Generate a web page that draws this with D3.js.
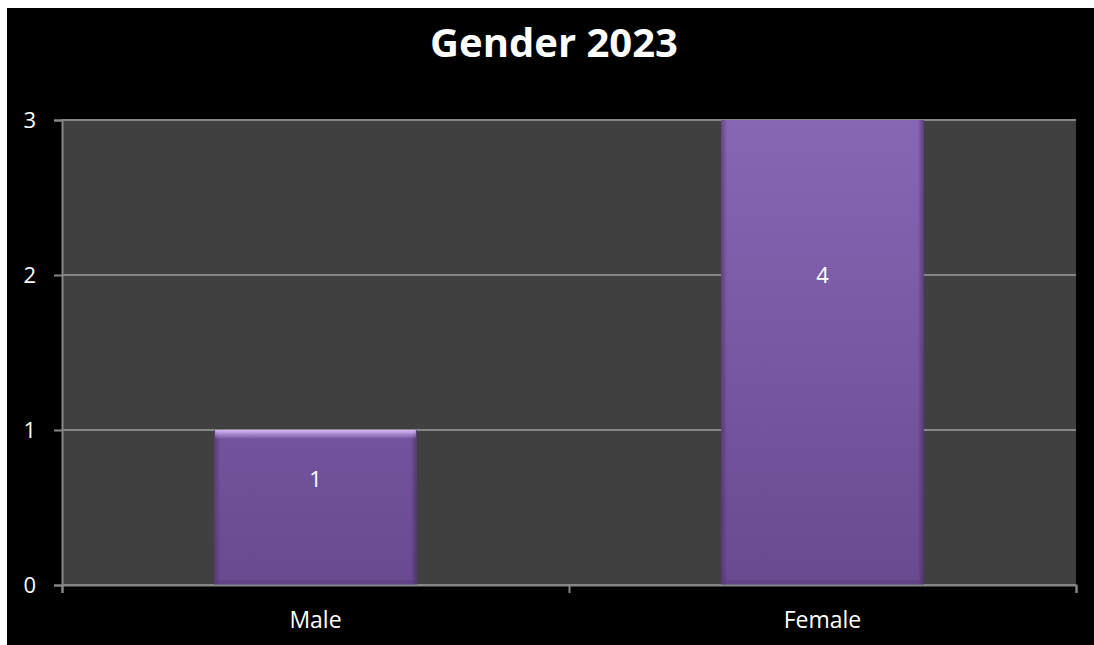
<!DOCTYPE html>
<html>
<head>
<meta charset="utf-8">
<title>Gender 2023</title>
<style>
  html, body { margin: 0; padding: 0; background: #fff; }
  svg { display: block; }
  text { font-family: "Open Sans", sans-serif; }
</style>
</head>
<body>
<div class="chart-container"></div>
<script src="https://cdn.jsdelivr.net/npm/d3@7/dist/d3.min.js"></script>
<script>
// data
var categories = ['Male', 'Female'];
var counts = [1, 4];
var yTicks = [0, 1, 2, 3];
var title = 'Gender 2023';

var W = 1094, H = 645;
var plot = {left: 62, right: 1076, top: 120, bottom: 585};

var svg = d3.select('.chart-container').append('svg')
    .attr('width', W)
    .attr('height', H);

// black chart area
svg.append('rect')
    .attr('x', 7).attr('y', 8)
    .attr('width', W - 7).attr('height', H - 8)
    .attr('fill', '#000');

var x = d3.scaleBand()
    .domain(categories)
    .range([plot.left, plot.right])
    .paddingInner(0.6)
    .paddingOuter(0.3);

var y = d3.scaleLinear()
    .domain([0, 3])
    .range([plot.bottom, plot.top]);

var defs = svg.append('defs');

var fillGrad = defs.append('linearGradient')
    .attr('id', 'barFill')
    .attr('gradientUnits', 'userSpaceOnUse')
    .attr('x1', 0).attr('x2', 0)
    .attr('y1', plot.top).attr('y2', plot.bottom);
fillGrad.append('stop').attr('offset', '0%').attr('stop-color', '#8766b4');
fillGrad.append('stop').attr('offset', '100%').attr('stop-color', '#694a90');

var sideGrad = defs.append('linearGradient')
    .attr('id', 'barSides')
    .attr('x1', 0).attr('x2', 1).attr('y1', 0).attr('y2', 0);
sideGrad.append('stop').attr('offset', '0%').attr('stop-color', '#3a2656').attr('stop-opacity', 0.5);
sideGrad.append('stop').attr('offset', '3%').attr('stop-color', '#3a2656').attr('stop-opacity', 0);
sideGrad.append('stop').attr('offset', '97%').attr('stop-color', '#3a2656').attr('stop-opacity', 0);
sideGrad.append('stop').attr('offset', '100%').attr('stop-color', '#3a2656').attr('stop-opacity', 0.6);

var topGrad = defs.append('linearGradient')
    .attr('id', 'barTop')
    .attr('x1', 0).attr('x2', 0).attr('y1', 0).attr('y2', 1);
topGrad.append('stop').attr('offset', '0%').attr('stop-color', '#dcbcff').attr('stop-opacity', 0.95);
topGrad.append('stop').attr('offset', '100%').attr('stop-color', '#dcbcff').attr('stop-opacity', 0);

defs.append('clipPath').attr('id', 'plotClip')
  .append('rect')
    .attr('x', plot.left).attr('y', plot.top)
    .attr('width', plot.right - plot.left)
    .attr('height', plot.bottom - plot.top);

// plot background
svg.append('rect')
    .attr('x', plot.left).attr('y', plot.top)
    .attr('width', plot.right - plot.left)
    .attr('height', plot.bottom - plot.top)
    .attr('fill', '#404040');

// gridlines
svg.append('g')
    .selectAll('line')
    .data(yTicks)
  .join('line')
    .attr('x1', plot.left).attr('x2', plot.right)
    .attr('y1', d => y(d)).attr('y2', d => y(d))
    .attr('stroke', '#868686')
    .attr('stroke-width', 2);

var barData = categories.map((c, i) => ({cat: c, v: counts[i]}));

// bars
var bars = svg.append('g')
    .attr('clip-path', 'url(#plotClip)')
    .selectAll('g')
    .data(barData)
  .join('g');

bars.append('rect')
    .attr('x', d => x(d.cat))
    .attr('y', d => y(d.v))
    .attr('width', x.bandwidth())
    .attr('height', d => y(0) - y(d.v))
    .attr('fill', 'url(#barFill)');

bars.append('rect')
    .attr('x', d => x(d.cat))
    .attr('y', d => y(d.v))
    .attr('width', x.bandwidth())
    .attr('height', d => y(0) - y(d.v))
    .attr('fill', 'url(#barSides)');

bars.append('rect')
    .attr('x', d => x(d.cat) + 1)
    .attr('y', d => y(d.v))
    .attr('width', x.bandwidth() - 2)
    .attr('height', 9)
    .attr('fill', 'url(#barTop)');

bars.append('rect')
    .attr('x', d => x(d.cat) + 2)
    .attr('y', y(0) - 5)
    .attr('width', x.bandwidth() - 4)
    .attr('height', 5)
    .attr('fill', '#5a3d80')
    .attr('opacity', 0.5);

// data labels (the short bar's label sits a little higher, as in the original)
var labelShift = {Male: -28, Female: 0};
svg.append('g')
    .selectAll('text')
    .data(barData)
  .join('text')
    .attr('x', d => x(d.cat) + x.bandwidth() / 2)
    .attr('y', d => y(d.v / 2) + labelShift[d.cat])
    .attr('dy', '0.36em')
    .attr('text-anchor', 'middle')
    .attr('fill', '#fff')
    .style('font-size', '22px')
    .text(d => d.v);

// axes
var yAxis = svg.append('g')
    .attr('transform', 'translate(' + plot.left + ',0)')
    .call(d3.axisLeft(y).tickValues(yTicks).tickFormat(d3.format('d')).tickSize(8).tickPadding(18));

var xAxis = svg.append('g')
    .attr('transform', 'translate(0,' + plot.bottom + ')')
    .call(d3.axisBottom(d3.scaleLinear().domain([0, 2]).range([plot.left, plot.right]))
      .tickValues([0, 1, 2]).tickSize(8).tickFormat(''));

svg.append('g')
    .selectAll('text')
    .data(categories)
  .join('text')
    .attr('x', d => x(d) + x.bandwidth() / 2)
    .attr('y', plot.bottom + 43)
    .attr('text-anchor', 'middle')
    .attr('fill', '#fff')
    .style('font-size', '23px')
    .text(d => d);

[yAxis, xAxis].forEach(function(a) {
  a.select('.domain').attr('stroke', '#868686').attr('stroke-width', 2);
  a.selectAll('.tick line').attr('stroke', '#868686').attr('stroke-width', 2);
  a.selectAll('.tick text').attr('fill', '#fff').style('font-size', '22px').style('font-family', '"Open Sans", sans-serif');
});

// title
svg.append('text')
    .attr('x', 554)
    .attr('y', 57)
    .attr('text-anchor', 'middle')
    .attr('fill', '#fff')
    .style('font-weight', 'bold')
    .style('font-size', '40px')
    .text(title);
</script>
</body>
</html>
